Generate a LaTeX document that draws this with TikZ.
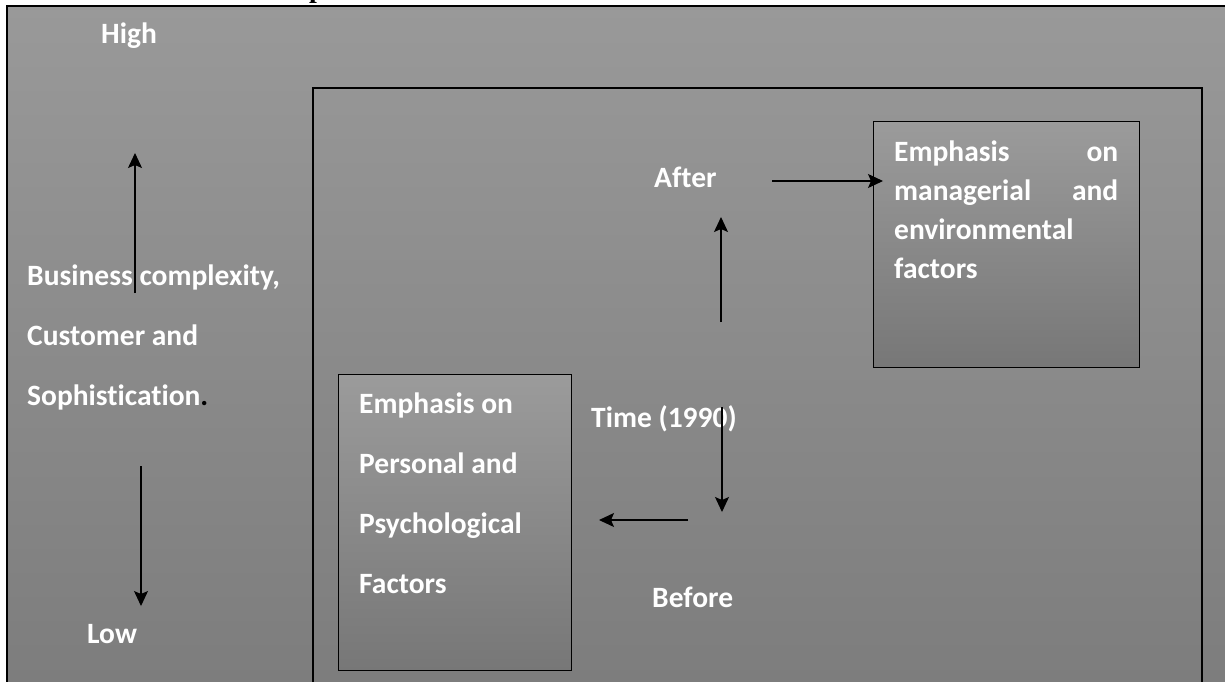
\documentclass[tikz,border=0pt]{standalone}
\usepackage{fontspec}
\setmainfont{Carlito}[Ligatures=NoCommon]
\newfontfamily\headfont{Liberation Serif}
\usepackage{tikz}
\usetikzlibrary{arrows.meta,positioning}

\definecolor{bgtop}{HTML}{999999}
\definecolor{bgbot}{HTML}{7D7D7D}
\definecolor{boxtop}{HTML}{9B9B9B}
\definecolor{boxbot}{HTML}{777777}

\begin{document}
\begin{tikzpicture}[x=1pt, y=-1pt,
  lbl/.style={text=white, inner sep=0pt, anchor=base west, align=flush left,
    font=\bfseries\fontsize{29.5}{60}\selectfont},
  panel/.style={draw=black, line width=1pt, top color=boxtop, bottom color=boxbot,
    anchor=north west, inner sep=0pt},
  arr/.style={-{Stealth[length=15pt, width=14pt, inset=3pt]}, line width=1.2pt}]
  \useasboundingbox (0,0) rectangle (1225,681);
  % background and frames
  \fill[top color=bgtop, bottom color=bgbot] (7,6) rectangle (1225,681);
  \draw[line width=1.5pt] (7,690) -- (7,6) -- (1230,6);
  \draw[line width=1.2pt] (313,690) -- (313,88) -- (1202,88) -- (1202,690);
  \node[anchor=base west, inner sep=0pt, font=\headfont\bfseries\fontsize{28}{34}\selectfont] (head) at (309,-3) {p};
  % left scale
  \node[lbl] (high) at (101,43) {High};
  \node[lbl, text width=300pt] (biz) at (27,285) {Business complexity,\\Customer and\\Sophistication{\color{black}.}};
  \node[lbl] (low) at (87,643) {Low};
  \coordinate (upS) at (135,293);
  \coordinate (upE) at (135,153);
  \coordinate (dnS) at (141,466);
  \coordinate (dnE) at (141,606);
  \draw[arr] (upS) -- (upE);
  \draw[arr] (dnS) -- (dnE);
  % boxes
  \node[panel, minimum width=233pt, minimum height=296pt] (lbox) at (338,374) {};
  \node[panel, minimum width=266pt, minimum height=246pt] (rbox) at (873,121) {};
  \node[lbl, text width=205pt] (ltext) at (359,413) {Emphasis on\\Personal and\\Psychological\\Factors};
  \node[lbl, text width=224pt, font=\bfseries\fontsize{29.5}{39}\selectfont] (rtext) at (894,161)
    {Emphasis\hfill on\\managerial\hfill and\\environmental\\factors};
  % time axis
  \node[lbl] (time) at (591,427) {Time (1990)};
  \node[lbl] (before) at (652,607) {Before};
  \node[lbl] (after) at (654,187) {After};
  \coordinate (tA) at (721,322);
  \coordinate (tB) at (721,217);
  \coordinate (tC) at (722,407);
  \coordinate (tD) at (722,512);
  \coordinate (bS) at (688,520);
  \coordinate (aS) at (772,181);
  \draw[arr] (tA) -- (tB);
  \draw[arr] (tC) -- (tD);
  \draw[arr, shorten >=27pt] (bS) -- (bS -| lbox.east);
  \draw[arr, shorten >=-10pt] (aS) -- (aS -| rbox.west);
\end{tikzpicture}
\end{document}
